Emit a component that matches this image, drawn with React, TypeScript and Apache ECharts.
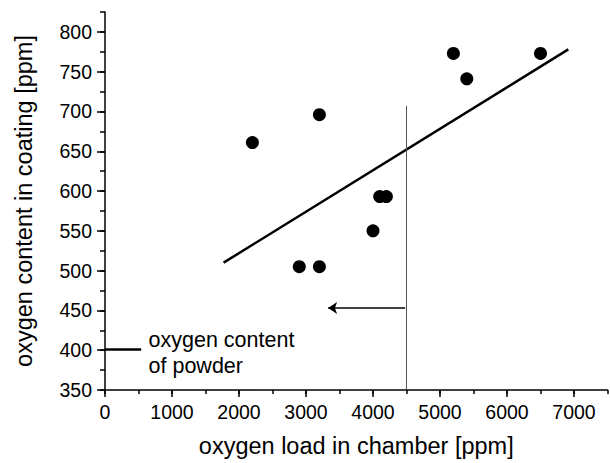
import React, { useEffect, useRef } from "react";
import * as echarts from "echarts";

const xMajorTicks = [0, 1000, 2000, 3000, 4000, 5000, 6000, 7000];
const yMajorTicks = [350, 400, 450, 500, 550, 600, 650, 700, 750, 800];

const pointX = [2200, 2900, 3200, 3200, 4000, 4100, 4200, 5200, 5400, 6500];
const pointY = [661, 505, 505, 696, 550, 593, 593, 773, 741, 773];

const fitX = [1770, 6915];
const fitY = [510, 778];

const limitX = [4500, 4500];
const limitY = [350, 707];

const arrowX = [4480, 3330];
const arrowY = [453, 453];

const powderX = [0, 540];
const powderY = [401, 401];

const noteX = [650];
const noteY = [396];
const noteText = "oxygen content\nof powder";

const FONT = "'Liberation Sans', Arial, Helvetica, sans-serif";

export default function App() {
  const ref = useRef<HTMLDivElement>(null);
  useEffect(() => {
    if (!ref.current) return;
    const chart = echarts.init(ref.current, null, { renderer: "svg" });
    const zip = (a: number[], b: number[]) => a.map((v, i) => [v, b[i]]);
    chart.setOption({
      animation: false,
      backgroundColor: "#ffffff",
      textStyle: { fontFamily: FONT, color: "#000" },
      grid: { left: 105, right: 2.5, top: 12, bottom: 71, containLabel: false },
      xAxis: [
        {
          type: "value",
          min: 0,
          max: 7500,
          interval: 1000,
          name: "oxygen load in chamber [ppm]",
          nameLocation: "middle",
          nameGap: 44,
          nameTextStyle: { fontSize: 23.5, color: "#000", fontFamily: FONT },
          axisLine: { show: true, lineStyle: { color: "#000", width: 1.5 } },
          axisTick: { show: true, inside: false, length: 7, lineStyle: { color: "#000", width: 1.5 }, customValues: xMajorTicks },
          axisLabel: {
            show: true,
            margin: 12,
            fontSize: 19.5,
            color: "#000",
            fontFamily: FONT,
            customValues: xMajorTicks,
            formatter: (v: number) => (xMajorTicks.includes(v) ? String(v) : ""),
          },
          splitLine: { show: false },
        },
        {
          type: "value",
          min: 0,
          max: 7500,
          interval: 500,
          position: "bottom",
          axisLine: { show: false },
          axisTick: { show: true, inside: false, length: 4, lineStyle: { color: "#000", width: 1.5 } },
          axisLabel: { show: false },
          splitLine: { show: false },
        },
      ],
      yAxis: [
        {
          type: "value",
          min: 350,
          max: 825,
          interval: 50,
          name: "oxygen content in coating [ppm]",
          nameLocation: "middle",
          nameGap: 69,
          nameRotate: 90,
          nameTextStyle: { fontSize: 23.5, color: "#000", fontFamily: FONT },
          axisLine: { show: true, lineStyle: { color: "#000", width: 1.5 } },
          axisTick: { show: true, inside: false, length: 8, lineStyle: { color: "#000", width: 1.5 }, customValues: yMajorTicks },
          axisLabel: {
            show: true,
            margin: 13,
            fontSize: 19.5,
            color: "#000",
            fontFamily: FONT,
            customValues: yMajorTicks,
            formatter: (v: number) => (yMajorTicks.includes(v) ? String(v) : ""),
          },
          splitLine: { show: false },
        },
        {
          type: "value",
          min: 350,
          max: 825,
          interval: 25,
          position: "left",
          axisLine: { show: false },
          axisTick: { show: true, inside: false, length: 5, lineStyle: { color: "#000", width: 1.5 } },
          axisLabel: { show: false },
          splitLine: { show: false },
        },
      ],
      series: [
        {
          type: "line",
          xAxisIndex: 0,
          yAxisIndex: 0,
          data: zip(fitX, fitY),
          symbol: "none",
          lineStyle: { color: "#000", width: 2.5 },
          silent: true,
        },
        {
          type: "line",
          xAxisIndex: 0,
          yAxisIndex: 0,
          data: zip(limitX, limitY),
          symbol: "none",
          lineStyle: { color: "#555", width: 1 },
          silent: true,
        },
        {
          type: "lines",
          coordinateSystem: "cartesian2d",
          xAxisIndex: 0,
          yAxisIndex: 0,
          silent: true,
          symbol: ["none", "arrow"],
          symbolSize: 9,
          lineStyle: { color: "#000", width: 1.5, opacity: 1 },
          data: [{ coords: [[arrowX[0], arrowY[0]], [arrowX[1], arrowY[1]]] }],
        },
        {
          type: "line",
          xAxisIndex: 0,
          yAxisIndex: 0,
          data: zip(powderX, powderY),
          symbol: "none",
          lineStyle: { color: "#000", width: 2.5 },
          silent: true,
        },
        {
          type: "scatter",
          xAxisIndex: 0,
          yAxisIndex: 0,
          data: zip(pointX, pointY),
          symbol: "circle",
          symbolSize: 13,
          itemStyle: { color: "#000", opacity: 1 },
          silent: true,
        },
        {
          type: "scatter",
          xAxisIndex: 0,
          yAxisIndex: 0,
          data: zip(noteX, noteY),
          symbolSize: 0,
          silent: true,
          itemStyle: { opacity: 1 },
          label: {
            show: true,
            position: [0, 0],
            align: "left",
            verticalAlign: "middle",
            formatter: noteText,
            fontSize: 21.5,
            lineHeight: 26,
            color: "#000",
            opacity: 1,
            fontFamily: FONT,
          },
        },
      ],
    });
    return () => chart.dispose();
  }, []);
  return <div ref={ref} style={{ width: 610, height: 463, position: "absolute", left: 0, top: 0 }} />;
}
